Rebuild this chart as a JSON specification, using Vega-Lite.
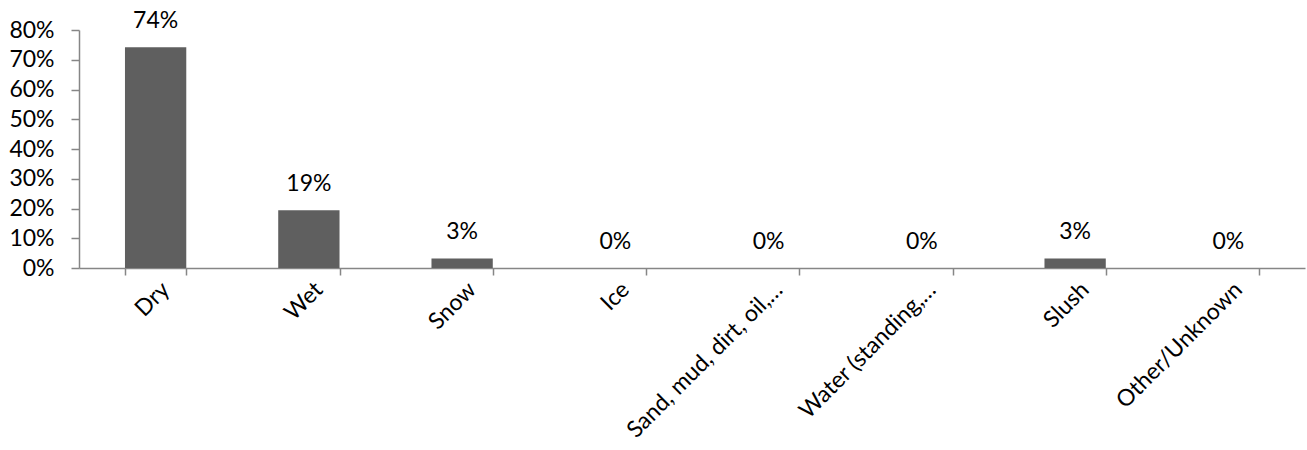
{
  "$schema": "https://vega.github.io/schema/vega-lite/v6.json",
  "autosize": {"type": "none"},
  "padding": {"left": 79, "top": 30, "right": 2, "bottom": 182},
  "width": 1226,
  "height": 238,
  "background": "white",
  "config": {"view": {"stroke": null}, "font": "Lato"},
  "data": {"values": [
    {"cat": "Dry", "v": 0.742},
    {"cat": "Wet", "v": 0.194},
    {"cat": "Snow", "v": 0.032},
    {"cat": "Ice", "v": 0.0},
    {"cat": "Sand, mud, dirt, oil,…", "v": 0.0},
    {"cat": "Water (standing,…", "v": 0.0},
    {"cat": "Slush", "v": 0.032},
    {"cat": "Other/Unknown", "v": 0.0}
  ]},
  "encoding": {
    "x": {"field": "cat", "type": "nominal", "sort": null,
      "scale": {"paddingInner": 0.6, "paddingOuter": 0.3},
      "axis": {"title": null, "labelAngle": -45, "labelAlign": "right", "labelBaseline": "top",
        "labelFontSize": 23, "labelColor": "#000000", "labelPadding": 3, "labelOffset": 2,
        "tickBand": "extent", "tickSize": 7, "tickColor": "#868686", "domainColor": "#868686",
        "domainWidth": 1.5, "tickWidth": 1.5, "labelLimit": 400}},
    "y": {"field": "v", "type": "quantitative",
      "scale": {"domain": [0, 0.8]},
      "axis": {"title": null, "format": ".0%", "values": [0,0.1,0.2,0.3,0.4,0.5,0.6,0.7,0.8],
        "grid": false, "labelFontSize": 23, "labelColor": "#000000", "labelPadding": 17,
        "tickSize": 8, "tickColor": "#868686", "domainColor": "#868686", "domainWidth": 1.5, "tickWidth": 1.5}}
  },
  "layer": [
    {"mark": {"type": "bar", "color": "#5f5f5f"}},
    {"mark": {"type": "text", "dy": -26, "fontSize": 23, "color": "#000000", "font": "Lato"},
     "encoding": {"text": {"field": "v", "type": "quantitative", "format": ".0%"}}}
  ]
}
